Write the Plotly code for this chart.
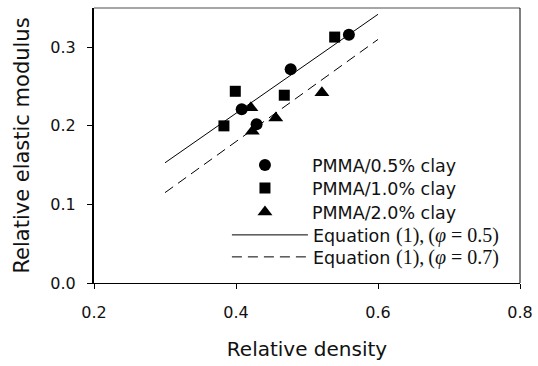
import plotly.graph_objects as go

# data
x_05 = [0.408, 0.429, 0.477, 0.559]
y_05 = [0.221, 0.202, 0.272, 0.316]
x_10 = [0.383, 0.399, 0.468, 0.539]
y_10 = [0.200, 0.244, 0.239, 0.313]
x_20 = [0.421, 0.423, 0.456, 0.521]
y_20 = [0.223, 0.193, 0.210, 0.242]
x_eq = [0.3, 0.6]
y_eq05 = [0.153, 0.342]
y_eq07 = [0.115, 0.310]

SERIF = "font-family:Liberation Serif;font-size:20px"
names = ["PMMA/0.5% clay", "PMMA/1.0% clay", "PMMA/2.0% clay",
         f"Equation <span style='{SERIF}'>(1),\u2009(<i>φ</i> = 0.5)</span>",
         f"Equation <span style='{SERIF}'>(1),\u2009(<i>φ</i> = 0.7)</span>"]

FONT = "DejaVu Sans"

fig = go.Figure()
fig.add_trace(go.Scatter(x=x_05, y=y_05, mode="markers", name=names[0], legend="legend",
                         marker=dict(symbol="circle", size=12, color="black")))
fig.add_trace(go.Scatter(x=x_10, y=y_10, mode="markers", name=names[1], legend="legend2",
                         marker=dict(symbol="square", size=11, color="black")))
fig.add_trace(go.Scatter(x=x_20, y=y_20, mode="markers", name=names[2], legend="legend3",
                         marker=dict(symbol="triangle-up", size=13, color="black")))
fig.add_trace(go.Scatter(x=x_eq, y=y_eq05, mode="lines", name=names[3], legend="legend4",
                         line=dict(color="black", width=1)))
fig.add_trace(go.Scatter(x=x_eq, y=y_eq07, mode="lines", name=names[4], legend="legend5",
                         line=dict(color="black", width=1, dash="10px,6px")))

axis_common = dict(showgrid=False, zeroline=False, showline=True, linecolor="black",
                   mirror=False, ticks="outside", ticklen=5, tickcolor="black",
                   automargin=False,
                   tickfont=dict(family=FONT, size=16, color="#111"))

fig.update_xaxes(range=[0.2, 0.8], tickvals=[0.2, 0.4, 0.6, 0.8], tickformat=".1f",
                 linewidth=1.3,
                 title=dict(text="Relative density", font=dict(family=FONT, size=20, color="#111"),
                            standoff=20),
                 ticklabelstandoff=10, **axis_common)
fig.update_yaxes(range=[0, 0.35], tickvals=[0.0, 0.1, 0.2, 0.3], tickformat=".1f",
                 linewidth=2,
                 title=dict(text="Relative elastic modulus", font=dict(family=FONT, size=21, color="#111"),
                            standoff=15),
                 ticklabelstandoff=8, **axis_common)

# frame: grey top edge, thin black right edge
fig.add_shape(type="line", xref="x domain", yref="y domain", x0=0, x1=1, y0=1, y1=1,
              line=dict(color="#888", width=1.5))
fig.add_shape(type="line", xref="x domain", yref="y domain", x0=1, x1=1, y0=0, y1=1,
              line=dict(color="black", width=1))

legend_rows = [0.429, 0.345, 0.258, 0.1745, 0.0945]
def leg(y, x, w):
    return dict(x=x, y=y, xanchor="left", yanchor="middle",
                bgcolor="rgba(0,0,0,0)", borderwidth=0,
                font=dict(family=FONT, size=17.5, color="#111"),
                itemwidth=w)

fig.update_layout(
    width=538, height=366,
    margin=dict(l=94, r=18, t=8, b=83),
    plot_bgcolor="white", paper_bgcolor="white",
    showlegend=True,
    legend=leg(legend_rows[0], 0.291, 84),
    legend2=leg(legend_rows[1], 0.291, 84),
    legend3=leg(legend_rows[2], 0.291, 84),
    legend4=leg(legend_rows[3], 0.312, 76),
    legend5=leg(legend_rows[4], 0.312, 76),
)

fig.write_html("out.html", config={"displayModeBar": False},
               post_script="document.body.style.margin='0';document.body.style.padding='0';")
